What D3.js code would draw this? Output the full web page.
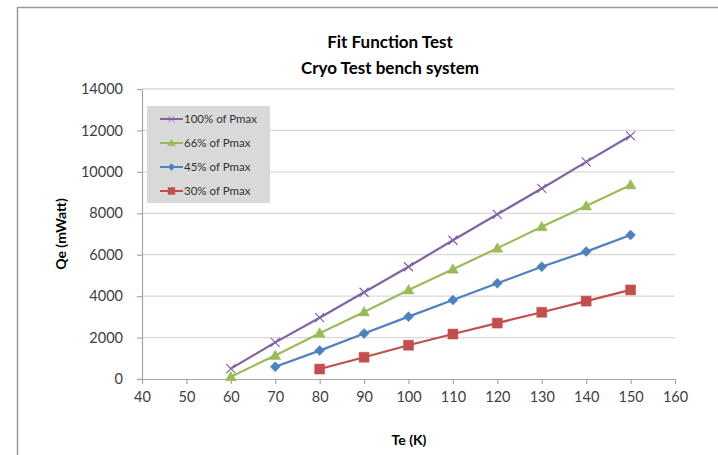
<!DOCTYPE html>
<html>
<head>
<meta charset="utf-8">
<script src="https://cdn.jsdelivr.net/npm/d3@7"></script>
<style>
  body { margin: 0; background: #fff; }
  svg { display: block; font-family: Lato, "Liberation Sans", sans-serif; }
</style>
</head>
<body>
<svg id="chart" width="718" height="455"></svg>
<script>
// ---------------- data ----------------
var te = [60, 70, 80, 90, 100, 110, 120, 130, 140, 150];
var p100 = [500, 1770, 2960, 4190, 5420, 6700, 7950, 9200, 10480, 11740];
var p66 = [110, 1140, 2210, 3240, 4300, 5300, 6310, 7350, 8350, 9370];
var p45 = [null, 590, 1370, 2200, 3010, 3810, 4620, 5420, 6150, 6950];
var p30 = [null, null, 480, 1050, 1630, 2170, 2700, 3220, 3760, 4300];
var xTicks = [40, 50, 60, 70, 80, 90, 100, 110, 120, 130, 140, 150, 160];
var yTicks = [0, 2000, 4000, 6000, 8000, 10000, 12000, 14000];

var series = [
  { name: "100% of Pmax", values: p100, color: "#8064A2", marker: "x" },
  { name: "66% of Pmax", values: p66, color: "#9BBB59", marker: "triangle" },
  { name: "45% of Pmax", values: p45, color: "#4F81BD", marker: "diamond" },
  { name: "30% of Pmax", values: p30, color: "#C0504D", marker: "square" }
];

// ---------------- layout ----------------
var svg = d3.select("#chart");
var plotLeft = 142, plotRight = 675, plotTop = 89, plotBottom = 379;

var x = d3.scaleLinear().domain([40, 160]).range([plotLeft, plotRight]);
var y = d3.scaleLinear().domain([0, 14000]).range([plotBottom, plotTop]);

// outer border (only left and top visible in the crop)
svg.append("path")
  .attr("d", "M17.5,455 L17.5,7.5 L718,7.5")
  .attr("fill", "none")
  .attr("stroke", "#9a9a9a")
  .attr("stroke-width", 1.5);

// gridlines
svg.append("g")
  .selectAll("line")
  .data(yTicks.filter(function(d) { return d > 0; }))
  .enter().append("line")
  .attr("x1", plotLeft).attr("x2", plotRight)
  .attr("y1", function(d) { return y(d); })
  .attr("y2", function(d) { return y(d); })
  .attr("stroke", "#d9d9d9")
  .attr("stroke-width", 1.3);

// axes
var xAxis = svg.append("g")
  .attr("transform", "translate(0," + plotBottom + ")")
  .call(d3.axisBottom(x).tickValues(xTicks).tickSize(5).tickPadding(8).tickSizeOuter(0));

var yAxis = svg.append("g")
  .attr("transform", "translate(" + plotLeft + ",0)")
  .call(d3.axisLeft(y).tickValues(yTicks).tickFormat(d3.format("d")).tickSize(5).tickPadding(14).tickSizeOuter(0));

[xAxis, yAxis].forEach(function(a) {
  a.select(".domain").attr("stroke", "#a6a6a6").attr("stroke-width", 1.2);
  a.selectAll(".tick line").attr("stroke", "#a6a6a6").attr("stroke-width", 1.2);
  a.selectAll("text")
    .style("font-size", "14.5px")
    .style("font-family", "Lato, sans-serif")
    .attr("fill", "#404040");
});

// legend box (drawn under the lines)
var legend = svg.append("g").attr("transform", "translate(147,106)");
legend.append("rect")
  .attr("width", 123)
  .attr("height", 97)
  .attr("fill", "#d9d9d9");

// series
var line = d3.line()
  .defined(function(d) { return d.v != null; })
  .x(function(d) { return x(d.t); })
  .y(function(d) { return y(d.v); });

var markerPath = {
  x: "M-4.5,-4.5L4.5,4.5M-4.5,4.5L4.5,-4.5",
  triangle: "M0,-5.5L5.5,4L-5.5,4Z",
  diamond: "M0,-5L5,0L0,5L-5,0Z",
  square: "M-5,-5L5,-5L5,5L-5,5Z"
};

function drawMarker(sel, s) {
  sel.append("path")
    .attr("d", markerPath[s.marker])
    .attr("fill", s.marker === "x" ? "none" : s.color)
    .attr("stroke", s.color)
    .attr("stroke-width", s.marker === "x" ? 1.2 : 0.5);
}

series.forEach(function(s) {
  var pts = te.map(function(t, i) { return { t: t, v: s.values[i] }; });
  svg.append("path")
    .datum(pts)
    .attr("d", line)
    .attr("fill", "none")
    .attr("stroke", s.color)
    .attr("stroke-width", 2.2);

  pts.filter(function(d) { return d.v != null; }).forEach(function(d) {
    var g = svg.append("g").attr("transform", "translate(" + x(d.t) + "," + y(d.v) + ")");
    drawMarker(g, s);
  });
});

// legend entries
series.forEach(function(s, i) {
  var row = legend.append("g").attr("transform", "translate(13," + (13 + i * 24) + ")");
  row.append("line")
    .attr("x1", 0).attr("x2", 23)
    .attr("stroke", s.color)
    .attr("stroke-width", 2);
  var m = row.append("g").attr("transform", "translate(11.5,0) scale(0.7)");
  drawMarker(m, s);
  row.append("text")
    .attr("x", 24)
    .attr("y", 4)
    .text(s.name)
    .style("font-size", "11.5px")
    .attr("fill", "#333");
});

// titles
svg.append("text")
  .attr("x", 390).attr("y", 48)
  .attr("text-anchor", "middle")
  .style("font-size", "17px").style("font-weight", "bold")
  .attr("fill", "#000")
  .text("Fit Function Test");
svg.append("text")
  .attr("x", 390).attr("y", 74)
  .attr("text-anchor", "middle")
  .style("font-size", "17px").style("font-weight", "bold")
  .attr("fill", "#000")
  .text("Cryo Test bench system");

svg.append("text")
  .attr("x", 409).attr("y", 445)
  .attr("text-anchor", "middle")
  .style("font-size", "14px").style("font-weight", "bold")
  .attr("fill", "#000")
  .text("Te (K)");

svg.append("text")
  .attr("transform", "translate(66,234) rotate(-90)")
  .attr("text-anchor", "middle")
  .style("font-size", "14px").style("font-weight", "bold")
  .attr("fill", "#000")
  .text("Qe (mWatt)");
</script>
</body>
</html>
